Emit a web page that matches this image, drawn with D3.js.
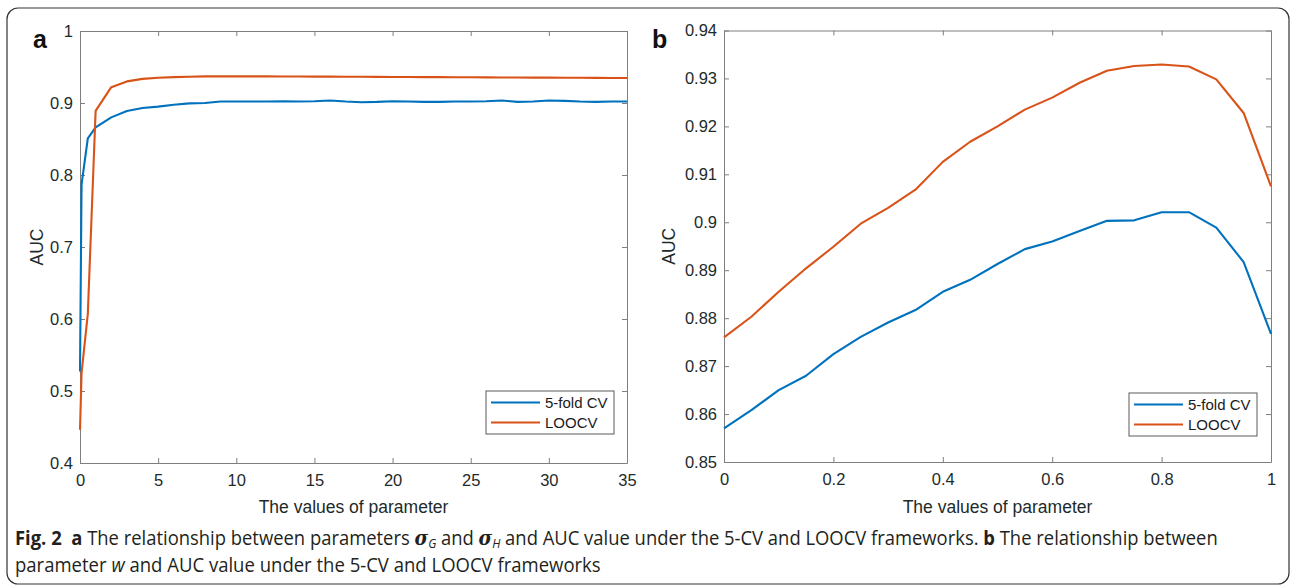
<!DOCTYPE html>
<html><head><meta charset="utf-8">
<script src="https://cdn.jsdelivr.net/npm/d3@7"></script>
<style>body{margin:0;background:#fff}svg{display:block}</style>
</head><body>
<script>
// ---- Panel a data ----
const xA = [0, 0.1, 0.5, 1, 2, 3, 4, 5, 6, 7, 8, 9, 10, 11, 12, 13, 14, 15, 16, 17, 18, 19, 20, 21, 22, 23, 24, 25, 26, 27, 28, 29, 30, 31, 32, 33, 34, 35];
const cvA = [0.527, 0.787, 0.851, 0.866, 0.880, 0.889, 0.893, 0.895, 0.8975, 0.8995, 0.900, 0.902, 0.902, 0.902, 0.902, 0.9025, 0.902, 0.9025, 0.9035, 0.902, 0.901, 0.9015, 0.9025, 0.902, 0.9015, 0.9015, 0.902, 0.902, 0.9025, 0.9035, 0.9015, 0.902, 0.9035, 0.903, 0.902, 0.9015, 0.902, 0.902];
const looA = [0.446, 0.525, 0.607, 0.889, 0.922, 0.930, 0.9335, 0.935, 0.936, 0.9365, 0.937, 0.937, 0.937, 0.937, 0.937, 0.9369, 0.9368, 0.9367, 0.9366, 0.9365, 0.9364, 0.9363, 0.9362, 0.9361, 0.936, 0.9359, 0.9358, 0.9357, 0.9356, 0.9355, 0.9354, 0.9353, 0.9352, 0.9351, 0.935, 0.9349, 0.9348, 0.9347];
const xTicksA = [0, 5, 10, 15, 20, 25, 30, 35];
const yTicksA = [0.4, 0.5, 0.6, 0.7, 0.8, 0.9, 1];

// ---- Panel b data ----
const xB = [0, 0.05, 0.1, 0.15, 0.2, 0.25, 0.3, 0.35, 0.4, 0.45, 0.5, 0.55, 0.6, 0.65, 0.7, 0.75, 0.8, 0.85, 0.9, 0.95, 1];
const cvB = [0.857, 0.8608, 0.865, 0.868, 0.8725, 0.8761, 0.8791, 0.8817, 0.8855, 0.888, 0.8913, 0.8944, 0.896, 0.8982, 0.9003, 0.9004, 0.9021, 0.9021, 0.8989, 0.8917, 0.8767];
const looB = [0.876, 0.8803, 0.8855, 0.8904, 0.8949, 0.8997, 0.903, 0.9068, 0.9126, 0.9168, 0.920, 0.9235, 0.926, 0.9291, 0.9316, 0.9326, 0.9329, 0.9325, 0.9298, 0.9228, 0.9075];
const xTicksB = [0, 0.2, 0.4, 0.6, 0.8, 1];
const yTicksB = [0.85, 0.86, 0.87, 0.88, 0.89, 0.9, 0.91, 0.92, 0.93, 0.94];

const seriesNames = ["5-fold CV", "LOOCV"];
const seriesColors = ["#0072BD", "#D95319"];

const W = 1291, H = 585;
const svg = d3.select("body").append("svg").attr("width", W).attr("height", H);

// outer rounded frame
svg.append("rect").attr("x", 7).attr("y", 8).attr("width", 1282).attr("height", 576)
  .attr("rx", 11).attr("fill", "none").attr("stroke", "#333").attr("stroke-width", 1.2);

const tickColor = "#1d2b2b";
const axisColor = "#7f7f7f";

function panel(cfg) {
  const x = d3.scaleLinear().domain(cfg.xDom).range([cfg.left, cfg.right]);
  const y = d3.scaleLinear().domain(cfg.yDom).range([cfg.bottom, cfg.top]);
  const g = svg.append("g");
  const fmtY = cfg.fmtY, fmtX = cfg.fmtX;

  const style = sel => {
    sel.selectAll("path.domain").attr("stroke", axisColor).attr("stroke-width", 1);
    sel.selectAll(".tick line").attr("stroke", axisColor).attr("stroke-width", 1);
    sel.selectAll("text").attr("fill", tickColor).attr("font-family", "Liberation Sans, Arial, sans-serif").attr("font-size", 16.5);
  };
  g.append("g").attr("transform", `translate(0,${cfg.bottom})`)
    .call(d3.axisBottom(x).tickValues(cfg.xTicks).tickFormat(fmtX).tickSizeInner(-5).tickSizeOuter(0).tickPadding(11)).call(style);
  g.append("g").attr("transform", `translate(0,${cfg.top})`)
    .call(d3.axisTop(x).tickValues(cfg.xTicks).tickFormat("").tickSizeInner(-5).tickSizeOuter(0)).call(style);
  g.append("g").attr("transform", `translate(${cfg.left},0)`)
    .call(d3.axisLeft(y).tickValues(cfg.yTicks).tickFormat(fmtY).tickSizeInner(-5).tickSizeOuter(0).tickPadding(7)).call(style);
  g.append("g").attr("transform", `translate(${cfg.right},0)`)
    .call(d3.axisRight(y).tickValues(cfg.yTicks).tickFormat("").tickSizeInner(-5).tickSizeOuter(0)).call(style);

  const line = d3.line().x((d, i) => x(cfg.xs[i])).y(d => y(d));
  cfg.series.forEach((s, k) => {
    g.append("path").datum(s).attr("d", line).attr("fill", "none")
      .attr("stroke", seriesColors[k]).attr("stroke-width", 2.1).attr("stroke-linejoin", "round");
  });

  // axis labels
  g.append("text").attr("x", (cfg.left + cfg.right) / 2).attr("y", 513).attr("text-anchor", "middle")
    .attr("font-family", "Liberation Sans, Arial, sans-serif").attr("font-size", 17.5).attr("fill", tickColor)
    .text("The values of parameter");
  g.append("text").attr("transform", `translate(${cfg.yLabelX},${(cfg.top + cfg.bottom) / 2}) rotate(-90)`)
    .attr("text-anchor", "middle").attr("font-family", "Liberation Sans, Arial, sans-serif")
    .attr("font-size", 17.5).attr("fill", tickColor).text("AUC");
  // panel letter
  g.append("text").attr("x", cfg.letterX).attr("y", 48).attr("font-family", "Liberation Sans, Arial, sans-serif")
    .attr("font-weight", "bold").attr("font-size", 25).attr("fill", "#111").text(cfg.letter);

  // legend
  const L = cfg.legend;
  const lg = g.append("g");
  lg.append("rect").attr("x", L.x).attr("y", L.y).attr("width", L.w).attr("height", L.h)
    .attr("fill", "#fff").attr("stroke", "#5a5a5a").attr("stroke-width", 1);
  seriesNames.forEach((n, k) => {
    const yy = L.y + 11.5 + k * 20;
    lg.append("line").attr("x1", L.x + 5).attr("x2", L.x + 54).attr("y1", yy).attr("y2", yy)
      .attr("stroke", seriesColors[k]).attr("stroke-width", 2.1);
    lg.append("text").attr("x", L.x + 59).attr("y", yy + 5.3).attr("font-family", "Liberation Sans, Arial, sans-serif")
      .attr("font-size", 15).attr("fill", "#1a1a1a").text(n);
  });
}

panel({
  xDom: [0, 35], yDom: [0.4, 1], left: 80, right: 627, top: 31, bottom: 463,
  xs: xA, series: [cvA, looA], xTicks: xTicksA, yTicks: yTicksA,
  fmtX: d3.format("d"), fmtY: d => (d === 1 ? "1" : d3.format(".1f")(d)),
  yLabelX: 43, letter: "a", letterX: 33,
  legend: {x: 486, y: 391, w: 128, h: 43}
});
panel({
  xDom: [0, 1], yDom: [0.85, 0.94], left: 724, right: 1271, top: 30.5, bottom: 462,
  xs: xB, series: [cvB, looB], xTicks: xTicksB, yTicks: yTicksB,
  fmtX: d => (d === 0 || d === 1 ? String(d) : d3.format(".1f")(d)),
  fmtY: d => (Math.abs(d - 0.9) < 1e-9 ? "0.9" : d3.format(".2f")(d)),
  yLabelX: 675, letter: "b", letterX: 652,
  legend: {x: 1129, y: 393, w: 128, h: 43}
});

// caption
const capFont = "Open Sans, Noto Sans, sans-serif";
function captionLine(y, parts, targetW) {
  const g = svg.append("g");
  const t = g.append("text").attr("x", 0).attr("y", 0).attr("font-family", capFont).attr("font-size", 20).attr("fill", "#231f20")
    .style("white-space", "pre");
  parts.forEach(p => {
    const ts = t.append("tspan").text(p.t);
    if (p.b) ts.attr("font-weight", "bold");
    if (p.i) ts.attr("font-style", "italic");
    if (p.sub) ts.attr("font-size", 13).attr("baseline-shift", "-22%");
    if (p.serif) ts.attr("font-family", "DejaVu Serif, Liberation Serif, serif");
  });
  const w = t.node().getComputedTextLength();
  g.attr("transform", `translate(15,${y}) scale(${targetW / w},1)`);
}
captionLine(545, [
  {t: "Fig. 2\u00a0\u00a0", b: 1}, {t: "a", b: 1}, {t: " The relationship between parameters "},
  {t: "σ", i: 1, b: 1, serif: 1}, {t: "G", i: 1, sub: 1}, {t: " and "},
  {t: "σ", i: 1, b: 1, serif: 1}, {t: "H", i: 1, sub: 1},
  {t: " and AUC value under the 5-CV and LOOCV frameworks. "}, {t: "b", b: 1}, {t: " The relationship between"}
], 1203);
captionLine(572, [
  {t: "parameter "}, {t: "w", i: 1}, {t: " and AUC value under the 5-CV and LOOCV frameworks"}
], 586);
</script>
</body></html>
